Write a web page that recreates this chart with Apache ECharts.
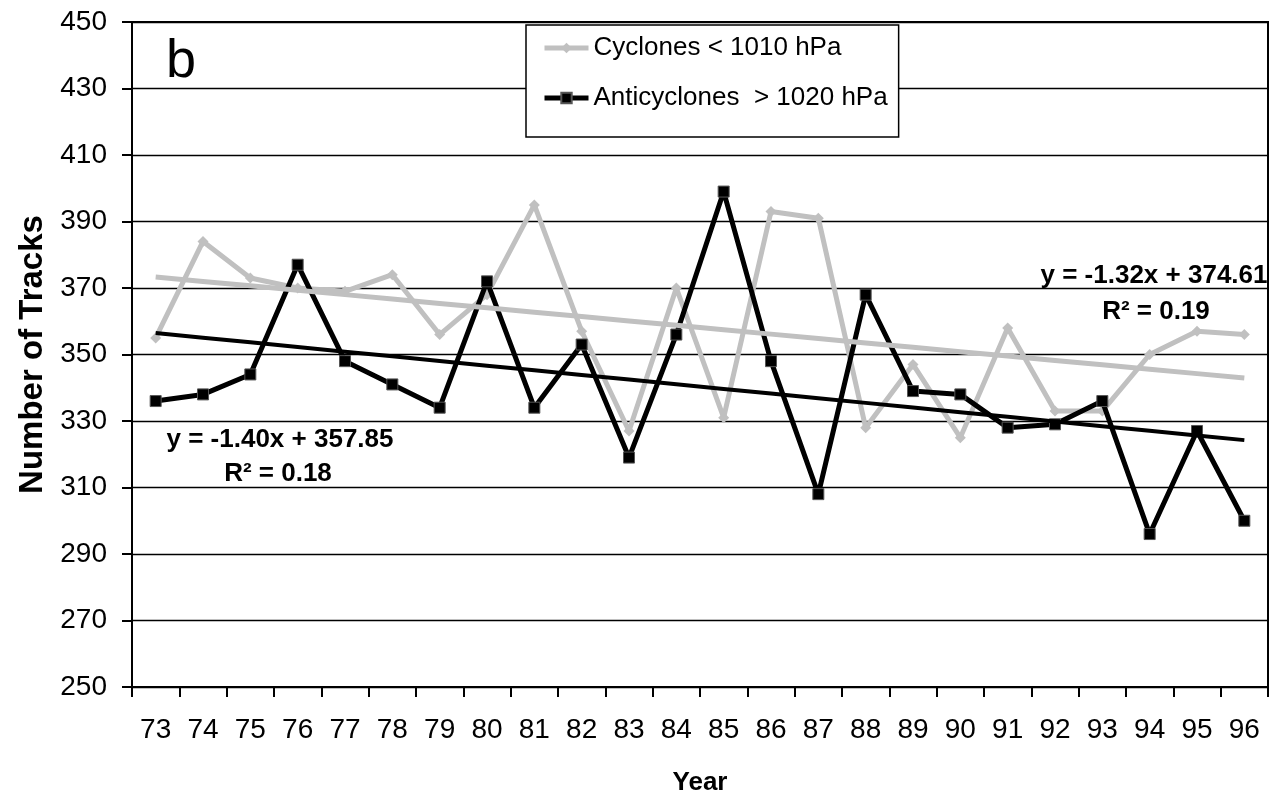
<!DOCTYPE html>
<html>
<head>
<meta charset="utf-8">
<script src="https://cdn.jsdelivr.net/npm/echarts@6/dist/echarts.min.js"></script>
<style>
html,body{margin:0;padding:0;background:#fff;}
#chart{width:1278px;height:794px;}
</style>
</head>
<body>
<div id="chart"></div>
<script>
// ---- data ----
var years = ['73','74','75','76','77','78','79','80','81','82','83','84','85','86','87','88','89','90','91','92','93','94','95','96'];
var cyclones = [355, 384, 373, 370, 369, 374, 356, 368, 395, 357, 327, 370, 331, 393, 391, 328, 347, 325, 358, 333, 333, 350, 357, 356];
var anticyclones = [336, 338, 344, 377, 348, 341, 334, 372, 334, 353, 319, 356, 399, 348, 308, 368, 339, 338, 328, 329, 336, 296, 327, 300];
// trendline coefficients printed on the chart: [slope, intercept]
var cycloneTrend = [-1.32, 374.61];
var anticycloneTrend = [-1.40, 357.85];
var yTicks = [250, 450, 20]; // min, max, interval

function trend(c) {
  return years.map(function (y, i) { return +(c[0] * (i + 1) + c[1]).toFixed(3); });
}

var FONT = '"Liberation Sans", Arial, sans-serif';
var GRAY = '#c0c0c0';

var chart = echarts.init(document.getElementById('chart'), null, {renderer: 'canvas'});
chart.setOption({
  animation: false,
  backgroundColor: '#fff',
  textStyle: {fontFamily: FONT},
  grid: {left: 132, right: 10, top: 22, bottom: 107, containLabel: false, outerBoundsMode: 'none',
         show: true, borderColor: '#000', borderWidth: 2, backgroundColor: 'transparent'},
  legend: {
    data: ['Cyclones < 1010 hPa', 'Anticyclones  > 1020 hPa'],
    orient: 'vertical',
    left: 526, top: 25,
    padding: [10, 11, 26, 16],
    itemGap: 24,
    itemWidth: 44, itemHeight: 13,
    borderColor: '#000', borderWidth: 1.5,
    backgroundColor: '#fff',
    lineStyle: {width: 5},
    textStyle: {fontSize: 26, color: '#000', fontFamily: FONT}
  },
  xAxis: {
    type: 'category',
    data: years,
    boundaryGap: true,
    name: 'Year',
    nameLocation: 'middle',
    nameGap: 83,
    nameTextStyle: {fontSize: 26, fontWeight: 'bold', color: '#000', fontFamily: FONT},
    axisLine: {lineStyle: {color: '#000', width: 2}},
    axisTick: {show: true, alignWithLabel: false, length: 10, lineStyle: {color: '#000', width: 2}},
    axisLabel: {fontSize: 28, color: '#000', margin: 29, interval: 0, fontFamily: FONT},
    splitLine: {show: false}
  },
  yAxis: {
    type: 'value',
    min: yTicks[0], max: yTicks[1], interval: yTicks[2],
    name: 'Number of Tracks',
    nameLocation: 'middle',
    nameGap: 82,
    nameTextStyle: {fontSize: 33, fontWeight: 'bold', color: '#000', fontFamily: FONT},
    axisLine: {show: true, lineStyle: {color: '#000', width: 2}},
    axisTick: {show: true, length: 10, lineStyle: {color: '#000', width: 2}},
    axisLabel: {fontSize: 28, color: '#000', margin: 25, fontFamily: FONT},
    splitLine: {show: true, lineStyle: {color: '#000', width: 1.3}}
  },
  series: [
    {
      name: 'Cyclones < 1010 hPa',
      type: 'line',
      data: cyclones,
      symbol: 'diamond', symbolSize: 11, showSymbol: true,
      lineStyle: {color: GRAY, width: 5},
      itemStyle: {color: GRAY},
      z: 2
    },
    {
      name: 'Anticyclones  > 1020 hPa',
      type: 'line',
      data: anticyclones,
      symbol: 'rect', symbolSize: 11, showSymbol: true,
      lineStyle: {color: '#000', width: 5},
      itemStyle: {color: '#000', borderColor: '#555', borderWidth: 1},
      z: 3
    },
    {
      name: 'cyclone trend',
      type: 'line',
      data: trend(cycloneTrend),
      symbol: 'none',
      lineStyle: {color: GRAY, width: 5},
      silent: true,
      z: 4
    },
    {
      name: 'anticyclone trend',
      type: 'line',
      data: trend(anticycloneTrend),
      symbol: 'none',
      lineStyle: {color: '#000', width: 4},
      silent: true,
      z: 4
    }
  ],
  graphic: [
    {type: 'text', left: 166, top: 35, style: {text: 'b', font: '54px ' + FONT, fill: '#000'}, z: 10},
    {type: 'text', x: 280, y: 440, style: {text: 'y = -1.40x + 357.85', font: 'bold 26px ' + FONT, fill: '#000', textAlign: 'center', textVerticalAlign: 'middle'}, z: 10},
    {type: 'text', x: 278, y: 474, style: {text: 'R² = 0.18', font: 'bold 26px ' + FONT, fill: '#000', textAlign: 'center', textVerticalAlign: 'middle'}, z: 10},
    {type: 'text', x: 1154, y: 276, style: {text: 'y = -1.32x + 374.61', font: 'bold 26px ' + FONT, fill: '#000', textAlign: 'center', textVerticalAlign: 'middle'}, z: 10},
    {type: 'text', x: 1156, y: 312, style: {text: 'R² = 0.19', font: 'bold 26px ' + FONT, fill: '#000', textAlign: 'center', textVerticalAlign: 'middle'}, z: 10}
  ]
});
</script>
</body>
</html>
